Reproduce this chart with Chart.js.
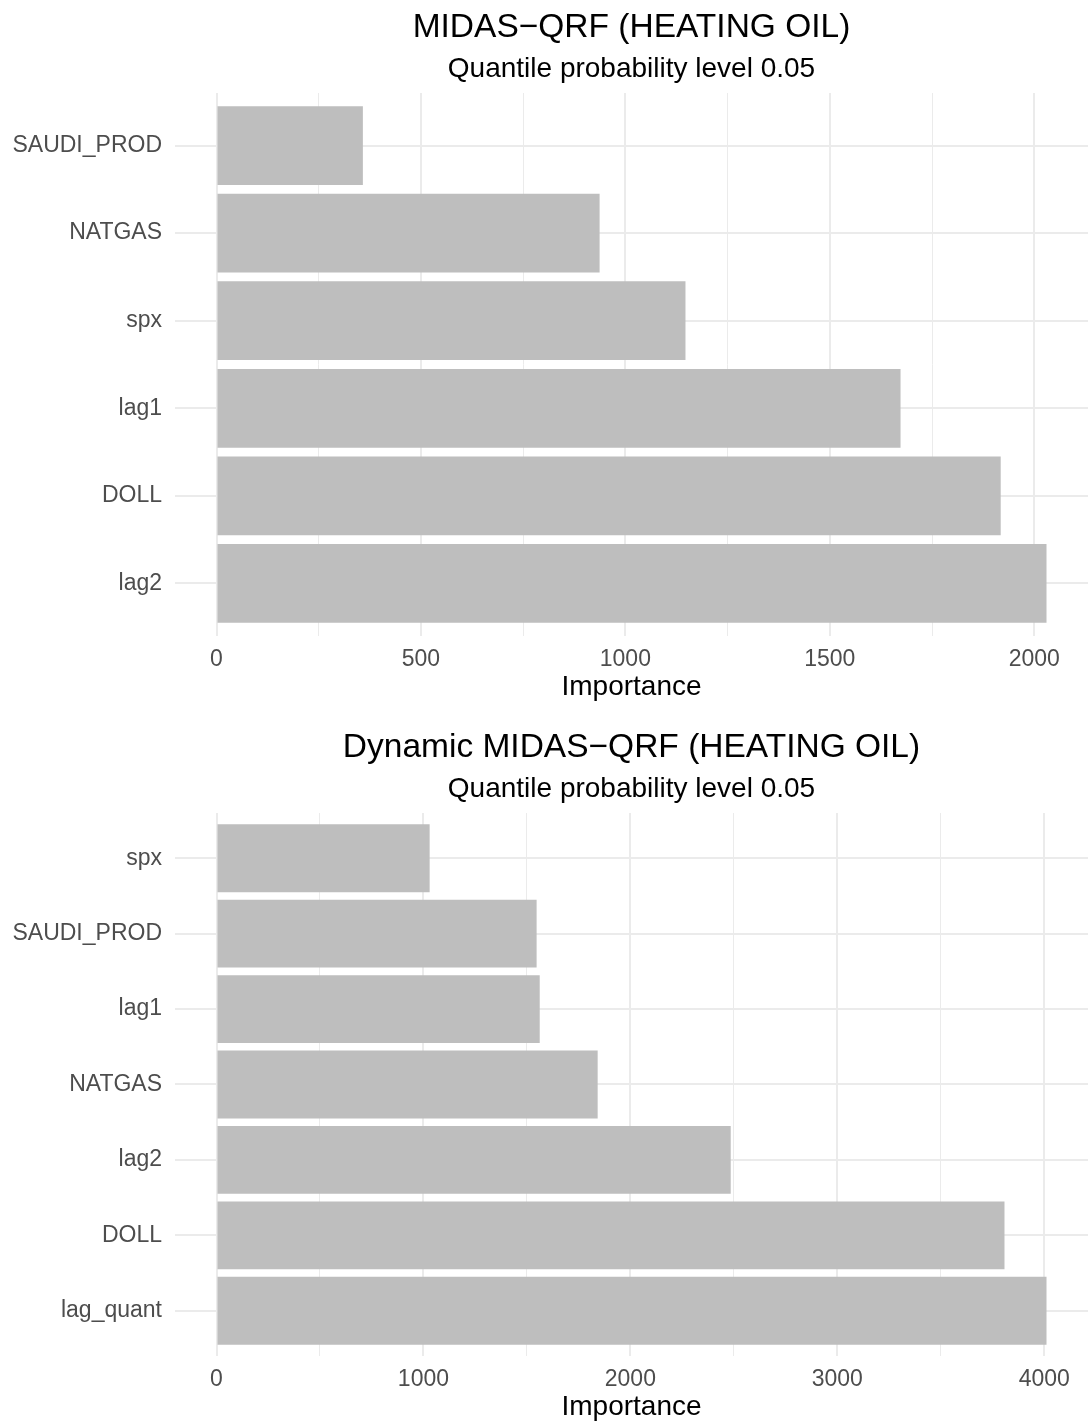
<!DOCTYPE html>
<html>
<head>
<meta charset="utf-8">
<script src="https://cdn.jsdelivr.net/npm/chart.js@4.4.1/dist/chart.umd.min.js"></script>
<style>
  body { margin: 0; background: #fff; }
  .panel { position: absolute; left: 0; width: 1088px; height: 703px; }
</style>
</head>
<body>
<div class="panel" style="top:0"><canvas id="staticChart"></canvas></div>
<div class="panel" style="top:720px"><canvas id="dynamicChart"></canvas></div>
<script>
// variable importance, listed from top bar to bottom bar
const staticVars = ['SAUDI_PROD', 'NATGAS', 'spx', 'lag1', 'DOLL', 'lag2'];
const staticImportance = [358, 937, 1147, 1673, 1918, 2030];
const staticTicks = [0, 500, 1000, 1500, 2000];

const dynamicVars = ['spx', 'SAUDI_PROD', 'lag1', 'NATGAS', 'lag2', 'DOLL', 'lag_quant'];
const dynamicImportance = [1030, 1547, 1562, 1842, 2485, 3808, 4011];
const dynamicTicks = [0, 1000, 2000, 3000, 4000];

const quantileLevel = 0.05;

Chart.defaults.font.family = "'Liberation Sans', Arial, Helvetica, sans-serif";

const GRID = '#EBEBEB';
const TEXT = '#4D4D4D';

// a hidden top axis whose only job is to carry a centred heading over the panel
function headingAxis(text, size, weight, padding) {
  return {
    type: 'linear', position: 'top', weight: weight, min: 0, max: 1,
    ticks: { display: false },
    grid: { display: false, drawTicks: false },
    border: { display: false },
    title: { display: true, text: text, color: '#000', font: { size: size, lineHeight: 1 }, padding: padding }
  };
}

function makeChart(id, title, vars, values, majorTicks) {
  const n = vars.length;
  // first level sits at the bottom, so the top bar gets the largest position
  const points = values.map((v, i) => ({ x: v, y: n - i }));

  // minor grid lines halfway between the major ones
  const gridValues = [];
  majorTicks.forEach((t, i) => {
    gridValues.push(t);
    if (i < majorTicks.length - 1) gridValues.push((t + majorTicks[i + 1]) / 2);
  });

  const xMax = Math.max(...values);
  const pad = xMax * 0.05;

  return new Chart(document.getElementById(id), {
    type: 'bar',
    data: {
      datasets: [{
        data: points,
        backgroundColor: '#BEBEBE',
        borderWidth: 0,
        categoryPercentage: 0.9,
        barPercentage: 1
      }]
    },
    options: {
      indexAxis: 'y',
      responsive: true,
      maintainAspectRatio: false,
      animation: false,
      layout: { padding: 0 },
      plugins: { legend: { display: false }, tooltip: { enabled: false } },
      scales: {
        x: {
          type: 'linear', position: 'bottom', min: -pad, max: xMax + pad,
          afterBuildTicks: s => { s.ticks = gridValues.map(v => ({ value: v })); },
          afterFit: s => { s.height = 67; },
          ticks: {
            autoSkip: false, maxRotation: 0, padding: 10, color: TEXT,
            font: { size: 23 },
            callback: v => majorTicks.includes(v) ? String(v) : ''
          },
          grid: {
            color: GRID, drawTicks: false,
            lineWidth: c => (c.tick && majorTicks.includes(c.tick.value)) ? 2 : 1
          },
          border: { display: false },
          title: {
            display: true, text: 'Importance', color: '#000',
            font: { size: 28, lineHeight: 1 }, padding: { top: 0, bottom: 2 }
          }
        },
        y: {
          type: 'linear', min: 0.4, max: n + 0.6, offset: false,
          afterBuildTicks: s => { s.ticks = vars.map((_, i) => ({ value: i + 1 })); },
          afterFit: s => { s.width = 175; },
          ticks: {
            padding: 13, color: TEXT, font: { size: 23 },
            callback: v => vars[n - v]
          },
          grid: { color: GRID, lineWidth: 2, drawTicks: false, offset: false },
          border: { display: false }
        },
        head: headingAxis(title, 33.5, 2, { top: 11, bottom: 0 }),
        sub: headingAxis('Quantile probability level ' + quantileLevel, 28, 1, { top: 11, bottom: 9.5 })
      }
    }
  });
}

makeChart('staticChart', 'MIDAS\u2212QRF (HEATING OIL)', staticVars, staticImportance, staticTicks);
makeChart('dynamicChart', 'Dynamic MIDAS\u2212QRF (HEATING OIL)', dynamicVars, dynamicImportance, dynamicTicks);
</script>
</body>
</html>
